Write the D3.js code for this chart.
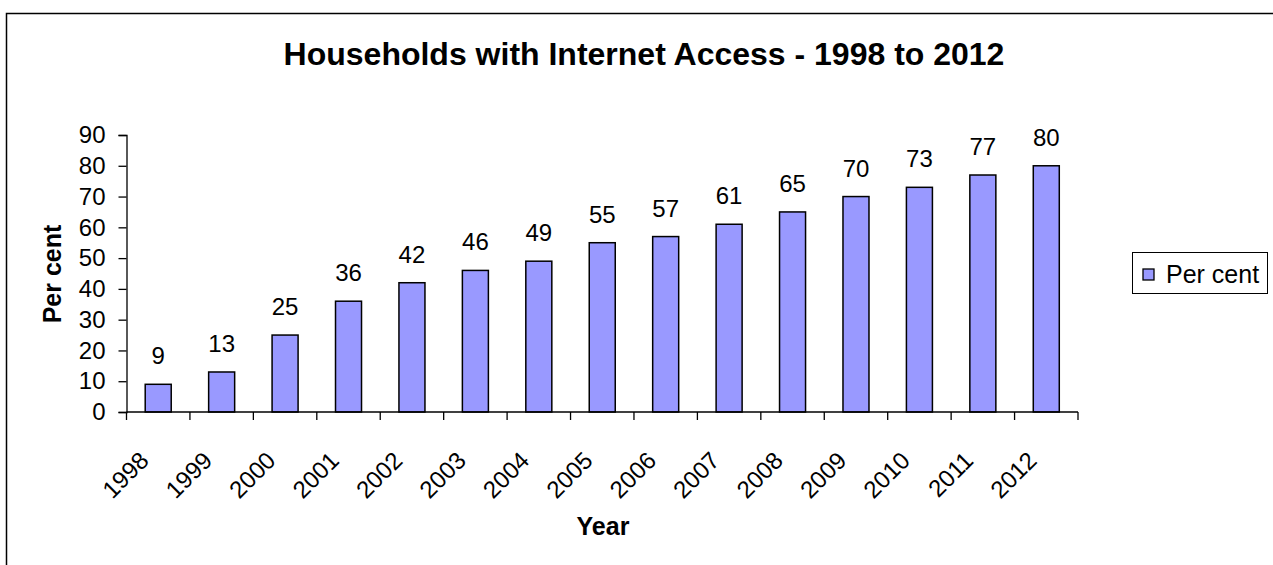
<!DOCTYPE html>
<html><head><meta charset="utf-8">
<script src="https://cdn.jsdelivr.net/npm/d3@7"></script>
<style>body{margin:0;background:#fff;}svg{display:block;font-family:"Liberation Sans",Arial,sans-serif;}</style>
</head><body>
<svg id="c" width="1273" height="565"></svg>
<script>
const years = ["1998","1999","2000","2001","2002","2003","2004","2005","2006","2007","2008","2009","2010","2011","2012"];
const values = [9,13,25,36,42,46,49,55,57,61,65,70,73,77,80];
const yTicks = [0,10,20,30,40,50,60,70,80,90];
const title = "Households with Internet Access - 1998 to 2012";
const seriesName = "Per cent";

const svg = d3.select("#c");
svg.append("rect").attr("x",6.5).attr("y",13.5).attr("width",1400).attr("height",700)
  .attr("fill","#fff").attr("stroke","#000").attr("stroke-width",1.5);

const L=126.5, R=1078, T=135, B=412;
const x = d3.scaleBand().domain(years).range([L,R]).paddingInner(0.59).paddingOuter(0.295);
const y = d3.scaleLinear().domain([0,90]).range([B,T]);

svg.append("text").attr("x",644).attr("y",65).attr("text-anchor","middle")
  .attr("font-size",32).attr("font-weight","bold").text(title);

// bars
svg.selectAll("rect.bar").data(values).enter().append("rect").attr("class","bar")
  .attr("x",(d,i)=>x(years[i])).attr("width",x.bandwidth())
  .attr("y",d=>y(d)).attr("height",d=>B-y(d))
  .attr("fill","#9999FF").attr("stroke","#000").attr("stroke-width",1.5);

svg.selectAll("text.val").data(values).enter().append("text").attr("class","val")
  .attr("x",(d,i)=>x(years[i])+x.bandwidth()/2).attr("y",d=>y(d)-20)
  .attr("text-anchor","middle").attr("font-size",24).text(d=>d);

// y axis
const ya = svg.append("g").attr("transform",`translate(${L},0)`)
  .call(d3.axisLeft(y).tickValues(yTicks).tickSize(8).tickPadding(13));
ya.selectAll("text").attr("font-size",24).attr("fill","#000").attr("font-family","Liberation Sans, Arial, sans-serif");
ya.selectAll("line,path").attr("stroke","#000").attr("stroke-width",1.3);

// x axis with ticks at band boundaries
const xa = svg.append("g").attr("transform",`translate(0,${B})`);
xa.append("line").attr("x1",L).attr("x2",R).attr("stroke","#000").attr("stroke-width",1.3);
const bounds = d3.range(years.length+1).map(i=>L+i*(R-L)/years.length);
xa.selectAll("line.t").data(bounds).enter().append("line").attr("class","t")
  .attr("x1",d=>d).attr("x2",d=>d).attr("y1",0).attr("y2",8).attr("stroke","#000").attr("stroke-width",1.3);
xa.selectAll("text.lab").data(years).enter().append("text").attr("class","lab")
  .attr("transform",d=>`translate(${x(d)+x.bandwidth()/2-14},${44}) rotate(-45)`)
  .attr("text-anchor","end").attr("dy","0.35em").attr("font-size",24).text(d=>d);

svg.append("text").attr("x",603).attr("y",535).attr("text-anchor","middle")
  .attr("font-size",25).attr("font-weight","bold").text("Year");
svg.append("text").attr("transform","translate(61,274) rotate(-90)").attr("text-anchor","middle")
  .attr("font-size",25).attr("font-weight","bold").text("Per cent");

// legend
const lg = svg.append("g");
lg.append("rect").attr("x",1132.5).attr("y",252.5).attr("width",135).attr("height",41)
  .attr("fill","#fff").attr("stroke","#000").attr("stroke-width",1);
lg.append("rect").attr("x",1143).attr("y",269).attr("width",11).attr("height",11)
  .attr("fill","#9999FF").attr("stroke","#000").attr("stroke-width",1.3);
lg.append("text").attr("x",1166).attr("y",283).attr("font-size",25).text(seriesName);
</script>
</body></html>
